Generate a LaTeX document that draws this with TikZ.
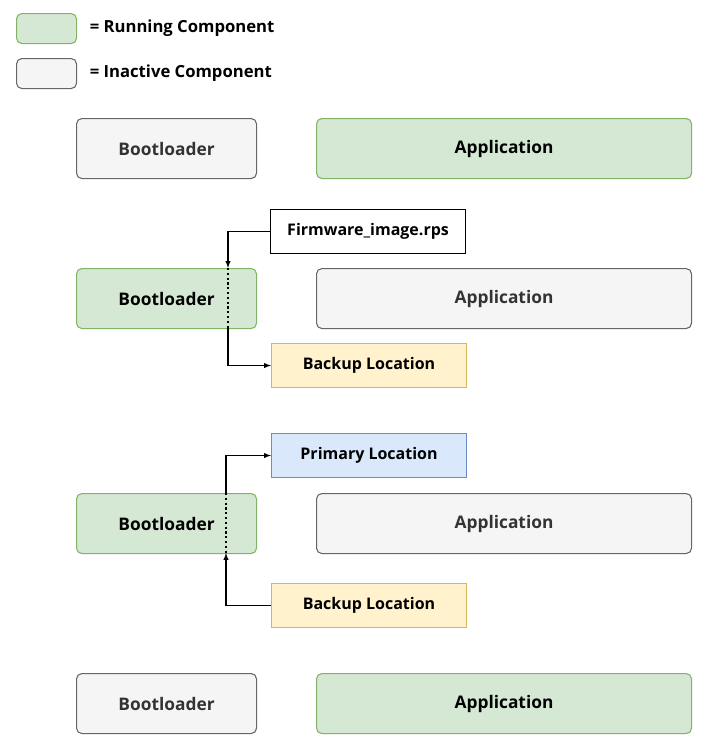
\documentclass[tikz,border=0pt]{standalone}
\usepackage{fontspec}
\setmainfont{Open Sans}
\usetikzlibrary{positioning}
\definecolor{runfill}{HTML}{D5E8D4}\definecolor{rundraw}{HTML}{82B366}
\definecolor{offfill}{HTML}{F5F5F5}\definecolor{offdraw}{HTML}{666666}
\definecolor{bakfill}{HTML}{FFF2CC}\definecolor{bakdraw}{HTML}{D6B656}
\definecolor{prifill}{HTML}{DAE8FC}\definecolor{pridraw}{HTML}{6C8EBF}
\tikzset{
  box/.style={rounded corners=4pt, line width=0.8pt, font=\bfseries\fontsize{13}{15}\selectfont, anchor=north west, inner sep=0pt},
  running/.style={box, fill=runfill, draw=rundraw},
  inactive/.style={box, fill=offfill, draw=offdraw, text=black!80},
  loc/.style={anchor=north west, inner sep=0pt, line width=0.8pt, font=\bfseries\fontsize{12}{14}\selectfont, minimum width=195*0.75pt, minimum height=44*0.75pt},
  flow/.style={-latex, line width=0.8pt},
}
\begin{document}
\begin{tikzpicture}[x=0.75pt, y=-0.75pt]
    \useasboundingbox (0,0) rectangle (712,744);
    % legend
    \node[running, minimum width=60*0.75pt, minimum height=30*0.75pt] (legrun) at (16,13) {};
    \node[right=6pt of legrun, font=\bfseries\fontsize{12.5}{14}\selectfont] {= Running Component};
    \node[inactive, minimum width=60*0.75pt, minimum height=30*0.75pt] (legoff) at (16,58) {};
    \node[right=6pt of legoff, font=\bfseries\fontsize{12.5}{14}\selectfont] {= Inactive Component};

    % stage 1
    \node[inactive, minimum width=180*0.75pt, minimum height=60*0.75pt] (boota) at (76,118) {Bootloader};
    \node[running, minimum width=375*0.75pt, minimum height=60*0.75pt] (appa) at (316,118) {Application};

    % stage 2
    \node[loc, draw=black, fill=white] (image) at (270,209) {Firmware\_image.rps};
    \node[running, minimum width=180*0.75pt, minimum height=60*0.75pt] (bootb) at (76,268) {Bootloader};
    \node[inactive, minimum width=375*0.75pt, minimum height=60*0.75pt] (appb) at (316,268) {Application};
    \node[loc, draw=bakdraw, fill=bakfill] (backb) at (271,343) {Backup Location};
    \coordinate (bbtop) at (228,268);
    \coordinate (bbbot) at (228,328);
    \draw[line width=1.6pt, dotted] (bbtop) -- (bbbot);
    \draw[flow] (image.west) -| (bbtop);
    \draw[flow] (bbbot) |- (backb.west);

    % stage 3
    \node[loc, draw=pridraw, fill=prifill] (primc) at (271,433) {Primary Location};
    \node[running, minimum width=180*0.75pt, minimum height=60*0.75pt] (bootc) at (76,493) {Bootloader};
    \node[inactive, minimum width=375*0.75pt, minimum height=60*0.75pt] (appc) at (316,493) {Application};
    \node[loc, draw=bakdraw, fill=bakfill] (backc) at (271,583) {Backup Location};
    \coordinate (bctop) at (226,493);
    \coordinate (bcbot) at (226,553);
    \draw[line width=1.6pt, dotted] (bctop) -- (bcbot);
    \draw[flow] (bctop) |- (primc.west);
    \draw[flow] (backc.west) -| (bcbot);

    % stage 4
    \node[inactive, minimum width=180*0.75pt, minimum height=60*0.75pt] (bootd) at (76,673) {Bootloader};
    \node[running, minimum width=375*0.75pt, minimum height=60*0.75pt] (appd) at (316,673) {Application};
\end{tikzpicture}
\end{document}
